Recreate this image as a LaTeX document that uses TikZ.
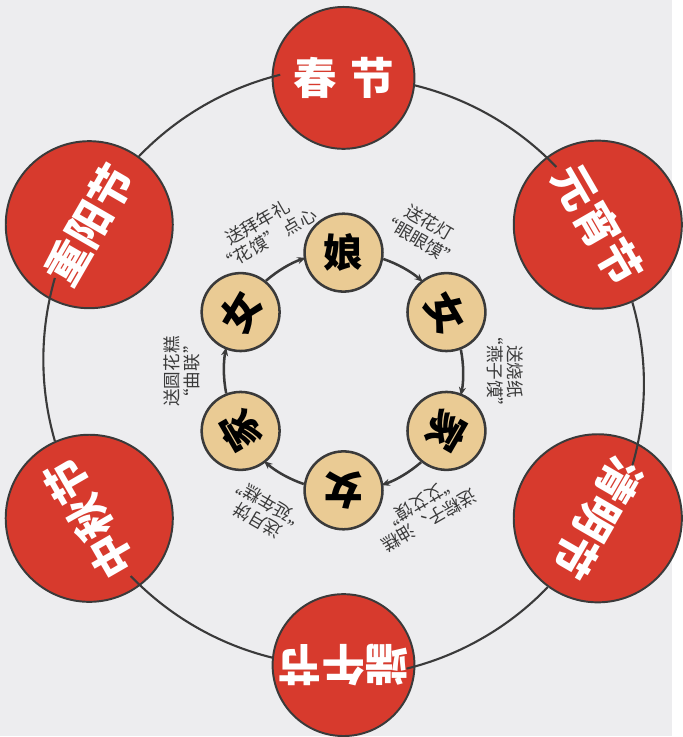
\documentclass[tikz,border=0pt]{standalone}
\usepackage{fontspec}
\newfontfamily\cjk{Noto Sans CJK SC}
\usetikzlibrary{arrows.meta}
\definecolor{festred}{HTML}{D73A2D}
\definecolor{kintan}{HTML}{EACB94}
\definecolor{ink}{HTML}{3A3A3A}
\definecolor{paper}{HTML}{EDEDEF}

\begin{document}
\begin{tikzpicture}[x=0.025cm,y=0.025cm,every node/.style={font=\cjk},
  festnode/.style={circle,draw=ink,line width=1.4pt,fill=festred,minimum size=3.55cm,inner sep=0pt,text=white,font=\cjk\bfseries\fontsize{31}{31}\selectfont},
  kinnode/.style={circle,draw=ink,line width=1.8pt,fill=kintan,minimum size=1.95cm,inner sep=0pt,font=\cjk\bfseries\fontsize{28}{28}\selectfont},
  giftlabel/.style={align=center,text=ink,inner sep=0pt,font=\cjk\fontsize{12.5}{14.5}\selectfont},
  ringline/.style={ink,line width=1.5pt},
  kinarrow/.style={ink,line width=1.8pt,-{Stealth[length=6pt,width=5pt]}}]
% paper 673 x 737 px, origin at the ring centre
\fill[paper] (-344,-365) rectangle (329,372);
% festivals on the outer ring
\foreach \i/\lbl [evaluate=\i as \ang using {150-60*\i}, evaluate=\i as \rot using {60-60*\i}] in {1/{春\hspace{.3em}节},2/元宵节,3/清明节,4/端午节,5/中秋节,6/重阳节}{
  \node[festnode] (fest\i) at (\ang:294) {\rotatebox[origin=c]{\rot}{\lbl}};}
\foreach \i [evaluate=\i as \ang using {150-60*\i}] in {1,...,6}{
  \draw[ringline] (fest\i.{\ang-96.94}) arc[start angle={\ang-13.87}, end angle={\ang-46.13}, radius=294];}
% mother's home and the daughter, inner ring
\foreach \i/\lbl [evaluate=\i as \ang using {150-60*\i}, evaluate=\i as \rot using {60-60*\i}] in {1/娘,2/女,3/家,4/女,5/家,6/女}{
  \node[kinnode] (kin\i) at (\ang:119) {\rotatebox[origin=c]{\rot}{\lbl}};}
\foreach \i [evaluate=\i as \ang using {150-60*\i}] in {1,...,6}{
  \draw[kinarrow] (kin\i.{\ang-99.43}) arc[start angle={\ang-18.86}, end angle={\ang-41.14}, radius=119];}
% gifts
\foreach \i/\a/\lbl in {1/120/{送拜年礼\\“花馍” 点心},2/60/{送花灯\\“眼眼馍”},3/0/{送烧纸\\“燕子馍”},4/-60/{送粽子、油糕\\“艾艾馍”},5/-120/{送月饼\\“延年糕”},6/180/{送圆花糕\\“曲联”}}
  \node[giftlabel,rotate=\a-90] (gift\i) at (\a:162) {\lbl};
\end{tikzpicture}
\end{document}
